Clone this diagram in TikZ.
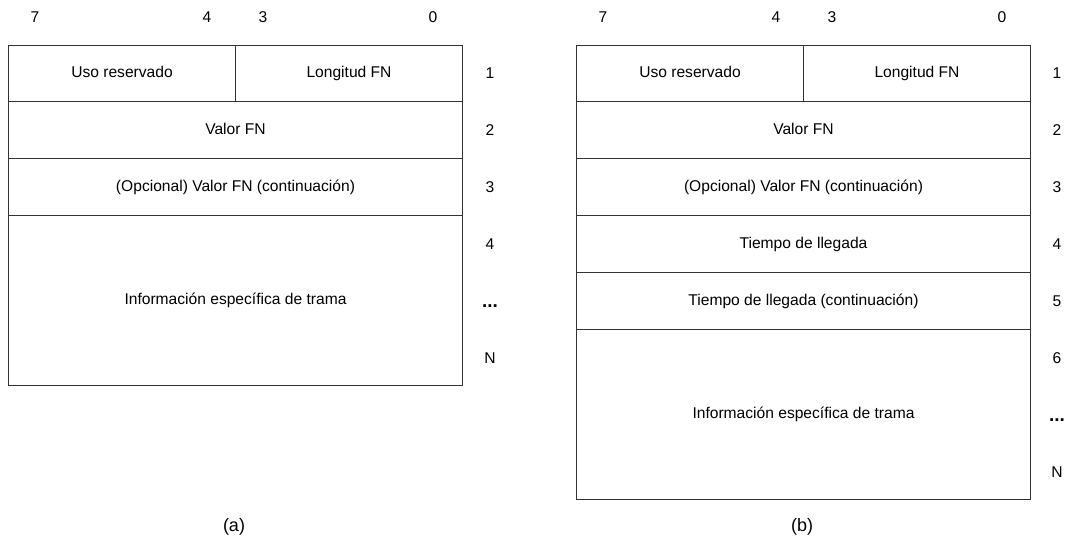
\documentclass[tikz,border=0pt]{standalone}
\usepackage{fontspec}
\setmainfont{Liberation Sans}
\begin{document}
\begin{tikzpicture}[x=1pt,y=-1pt,
  cell/.style={draw=black!80, line width=1pt, inner sep=0pt, anchor=north west, text height=11pt, text depth=3pt, font=\fontsize{15.6}{18}\selectfont},
  lbl/.style={inner sep=0pt, font=\fontsize{15.6}{18}\selectfont},
  capt/.style={inner sep=0pt, font=\fontsize{18}{20}\selectfont},
  dots/.style={inner sep=0pt, font=\fontsize{19}{20}\selectfont\bfseries}]
\useasboundingbox (0,0) rectangle (1072,542);
% (a)
\node[cell, minimum width=227pt, minimum height=56pt] (a1l) at (8,45) {Uso reservado};
\node[cell, minimum width=227pt, minimum height=56pt] (a1r) at (235,45) {Longitud FN};
\node[cell, minimum width=454pt, minimum height=57pt] (a2) at (8,101) {Valor FN};
\node[cell, minimum width=454pt, minimum height=57pt] (a3) at (8,158) {(Opcional) Valor FN (continuación)};
\node[cell, minimum width=454pt, minimum height=170pt] (a4) at (8,215) {Información específica de trama};
\node[lbl] (ah7) at (35,17) {7};
\node[lbl] (ah4) at (207,17) {4};
\node[lbl] (ah3) at (263,17) {3};
\node[lbl] (ah0) at (433,17) {0};
\node[lbl] (ar1) at (490,73) {1};
\node[lbl] (ar2) at (490,130) {2};
\node[lbl] (ar3) at (490,187) {3};
\node[lbl] (ar4) at (490,244) {4};
\node[dots] (ard) at (490,306) {...};
\node[lbl] (arn) at (490,358) {N};
\node[capt] (capa) at (234,527) {(a)};
% (b)
\node[cell, minimum width=227pt, minimum height=56pt] (b1l) at (576,45) {Uso reservado};
\node[cell, minimum width=227pt, minimum height=56pt] (b1r) at (803,45) {Longitud FN};
\node[cell, minimum width=454pt, minimum height=57pt] (b2) at (576,101) {Valor FN};
\node[cell, minimum width=454pt, minimum height=57pt] (b3) at (576,158) {(Opcional) Valor FN (continuación)};
\node[cell, minimum width=454pt, minimum height=57pt] (b4) at (576,215) {Tiempo de llegada};
\node[cell, minimum width=454pt, minimum height=57pt] (b5) at (576,272) {Tiempo de llegada (continuación)};
\node[cell, minimum width=454pt, minimum height=170pt] (b6) at (576,329) {Información específica de trama};
\node[lbl] (bh7) at (603,17) {7};
\node[lbl] (bh4) at (776,17) {4};
\node[lbl] (bh3) at (832,17) {3};
\node[lbl] (bh0) at (1002,17) {0};
\node[lbl] (br1) at (1057,73) {1};
\node[lbl] (br2) at (1057,130) {2};
\node[lbl] (br3) at (1057,187) {3};
\node[lbl] (br4) at (1057,244) {4};
\node[lbl] (br5) at (1057,301) {5};
\node[lbl] (br6) at (1057,358) {6};
\node[dots] (brd) at (1057,420) {...};
\node[lbl] (brn) at (1057,472) {N};
\node[capt] (capb) at (802,527) {(b)};
\end{tikzpicture}
\end{document}
